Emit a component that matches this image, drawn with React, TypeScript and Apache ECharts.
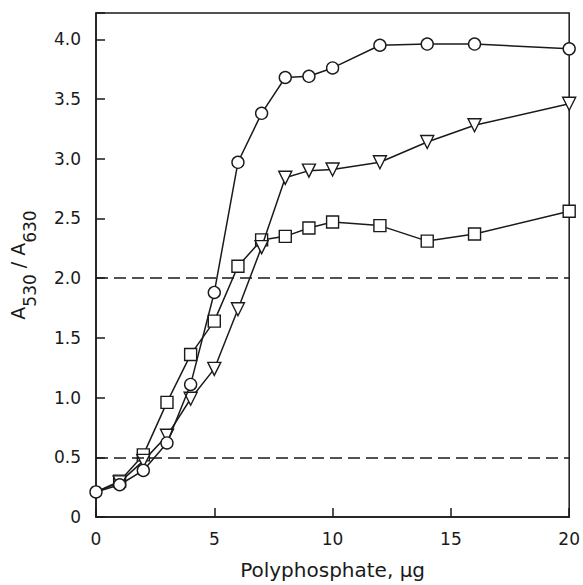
import React, { useEffect, useRef } from "react";
import * as echarts from "echarts";

const xValues = [0, 1, 2, 3, 4, 5, 6, 7, 8, 9, 10, 12, 14, 16, 20];
const circleValues = [0.21, 0.27, 0.39, 0.62, 1.11, 1.88, 2.97, 3.38, 3.68, 3.69, 3.76, 3.95, 3.96, 3.96, 3.92];
const triangleValues = [0.21, 0.29, 0.47, 0.68, 0.99, 1.24, 1.74, 2.26, 2.84, 2.9, 2.91, 2.97, 3.14, 3.28, 3.46];
const squareValues = [0.21, 0.3, 0.52, 0.96, 1.36, 1.64, 2.1, 2.32, 2.35, 2.42, 2.47, 2.44, 2.31, 2.37, 2.56];
const referenceLevels = [2.0, 0.5];
const xTicks = [0, 5, 10, 15, 20];

const FONT = "DejaVu Sans";
const INK = "#1a1a1a";

export default function App() {
  const ref = useRef<HTMLDivElement>(null);
  useEffect(() => {
    if (!ref.current) return;
    const chart = echarts.init(ref.current, undefined, { renderer: "svg" });

    const toData = (vals: number[], hideFirst: boolean) =>
      xValues.map((x, i) =>
        hideFirst && i === 0 ? { value: [x, vals[i]], symbol: "none" } : { value: [x, vals[i]] }
      );

    const baseSeries = {
      type: "line",
      lineStyle: { color: INK, width: 1.5 },
      itemStyle: { color: "#fff", borderColor: INK, borderWidth: 1.4 },
      showSymbol: true,
      silent: true,
    };

    chart.setOption({
      animation: false,
      backgroundColor: "#fff",
      grid: {
        left: 96,
        right: 11,
        top: 13,
        bottom: 66,
        show: true,
        borderColor: INK,
        borderWidth: 1.5,
        backgroundColor: "transparent",
      },
      xAxis: {
        type: "value",
        min: 0,
        max: 20,
        interval: 5,
        name: "Polyphosphate, µg",
        nameLocation: "middle",
        nameGap: 43,
        nameTextStyle: { fontFamily: FONT, fontSize: 20, color: INK },
        axisLine: { lineStyle: { color: INK, width: 1.5 } },
        axisTick: { inside: true, length: 9, lineStyle: { color: INK, width: 1.5 } },
        axisLabel: {
          margin: 13,
          fontFamily: FONT,
          fontSize: 17,
          color: INK,
          formatter: (v: number) => (xTicks.includes(v) ? String(v) : ""),
        },
        splitLine: { show: false },
      },
      yAxis: {
        type: "value",
        min: 0,
        max: 4.22,
        interval: 0.5,
        name: "{a|A}{s|530}{a| / A}{s|630}",
        nameLocation: "middle",
        nameRotate: 90,
        nameGap: 58,
        nameTextStyle: {
          fontFamily: FONT,
          fontSize: 19,
          color: INK,
          rich: {
            a: { fontFamily: FONT, fontSize: 19, color: INK, verticalAlign: "top" },
            s: { fontFamily: FONT, fontSize: 17, color: INK, padding: [13, 0, 0, 0], verticalAlign: "top" },
          },
        },
        axisLine: { show: true, lineStyle: { color: INK, width: 1.5 } },
        axisTick: { show: true, inside: true, length: 9, lineStyle: { color: INK, width: 1.5 } },
        axisLabel: {
          margin: 15,
          fontFamily: FONT,
          fontSize: 17,
          color: INK,
          formatter: (v: number) => {
            if (Math.abs(v * 2 - Math.round(v * 2)) > 1e-6 || v > 4.01) return "";
            return v === 0 ? "0" : v.toFixed(1);
          },
        },
        splitLine: { show: false },
      },
      series: [
        {
          ...baseSeries,
          name: "square",
          symbol: "rect",
          symbolSize: 12,
          data: toData(squareValues, true),
          z: 2,
          markLine: {
            silent: true,
            symbol: "none",
            label: { show: false },
            lineStyle: { color: INK, width: 1.5, type: [12, 6] },
            data: referenceLevels.map((y) => ({ yAxis: y })),
          },
        },
        {
          ...baseSeries,
          name: "triangle",
          symbol: "triangle",
          symbolRotate: 180,
          symbolSize: 13,
          data: toData(triangleValues, true),
          z: 3,
        },
        {
          ...baseSeries,
          name: "circle",
          symbol: "circle",
          symbolSize: 12,
          data: toData(circleValues, false),
          z: 4,
        },
      ],
    });
    return () => chart.dispose();
  }, []);
  return <div ref={ref} style={{ width: 583, height: 585, position: "absolute", left: 0, top: 0 }} />;
}
